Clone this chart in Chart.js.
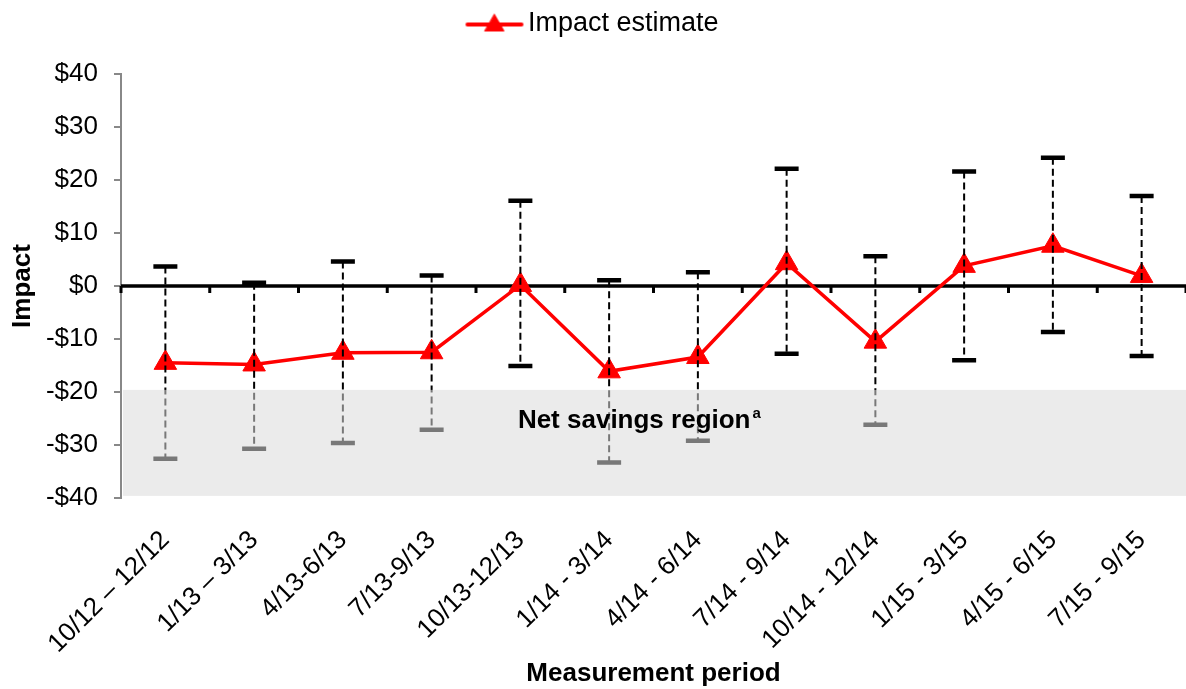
<!DOCTYPE html>
<html>
<head>
<meta charset="utf-8">
<title>Impact estimate by measurement period</title>
<script src="https://cdn.jsdelivr.net/npm/chart.js@4.4.0/dist/chart.umd.min.js"></script>
<style>
  html, body { margin: 0; padding: 0; background: #fff; }
  #wrap { width: 1186px; height: 689px; }
</style>
</head>
<body>
<div id="wrap"><canvas id="impactChart"></canvas></div>
<script>
// quarterly measurement periods
const periods = [
  "10/12 \u2013 12/12", "1/13 \u2013 3/13", "4/13-6/13", "7/13-9/13", "10/13-12/13",
  "1/14 - 3/14", "4/14 - 6/14", "7/14 - 9/14", "10/14 - 12/14",
  "1/15 - 3/15", "4/15 - 6/15", "7/15 - 9/15"
];
// point estimates and confidence interval bounds
const impact = [-14.5, -14.8, -12.6, -12.5, 0.2, -16.1, -13.4, 4.3, -10.5, 3.8, 7.6, 1.9];
const ciLow  = [-32.6, -30.7, -29.6, -27.1, -15.1, -33.3, -29.2, -12.8, -26.2, -14.0, -8.7, -13.2];
const ciHigh = [3.7, 0.6, 4.6, 2.0, 16.1, 1.1, 2.6, 22.1, 5.6, 21.6, 24.2, 17.0];
// y axis ticks
const yTicks = [-40, -30, -20, -10, 0, 10, 20, 30, 40];
// shaded band (net savings)
const savingsBand = [-39.6, -19.6];

const FONT = "'Liberation Sans', Arial, sans-serif";

function money(v) {
  return v < 0 ? "-$" + Math.abs(v) : "$" + v;
}

// legend swatch: red line with a triangle marker
const legendIcon = document.createElement("canvas");
legendIcon.width = 60;
legendIcon.height = 26;
(function () {
  const g = legendIcon.getContext("2d");
  g.strokeStyle = "#ff0000";
  g.lineWidth = 4;
  g.lineCap = "round";
  g.beginPath();
  g.moveTo(3, 14);
  g.lineTo(57, 14);
  g.stroke();
  g.fillStyle = "#ff0000";
  g.lineWidth = 1;
  Chart.helpers.drawPoint(g, { pointStyle: "triangle", radius: 11, rotation: 0, borderWidth: 1 }, 30, 15);
})();

// room between legend and plot
const legendGap = {
  id: "legendGap",
  beforeInit(chart) {
    const fit = chart.legend.fit;
    chart.legend.fit = function () {
      fit.bind(chart.legend)();
      this.height += 27;
    };
  }
};

// zero line with category tick marks
const zeroAxis = {
  id: "zeroAxis",
  beforeDatasetsDraw(chart) {
    const { ctx, chartArea, scales } = chart;
    const y0 = scales.y.getPixelForValue(0);
    ctx.save();
    ctx.strokeStyle = "#000";
    ctx.lineWidth = 3.5;
    ctx.beginPath();
    ctx.moveTo(chartArea.left, y0);
    ctx.lineTo(chartArea.right, y0);
    ctx.stroke();
    ctx.lineWidth = 3;
    for (let i = 0; i <= periods.length; i++) {
      const x = scales.x.getPixelForValue(i - 0.5);
      ctx.beginPath();
      ctx.moveTo(x, y0);
      ctx.lineTo(x, y0 + 7);
      ctx.stroke();
    }
    ctx.restore();
  }
};

// confidence intervals, then the shaded band and its label
const intervals = {
  id: "intervals",
  afterDatasetsDraw(chart) {
    const { ctx, chartArea, scales } = chart;
    const xs = scales.x, ys = scales.y;
    ctx.save();
    ctx.strokeStyle = "#000";
    for (let i = 0; i < periods.length; i++) {
      const x = xs.getPixelForValue(i);
      const top = ys.getPixelForValue(ciHigh[i]);
      const bot = ys.getPixelForValue(ciLow[i]);
      ctx.lineWidth = 2;
      ctx.setLineDash([7, 4]);
      ctx.beginPath();
      ctx.moveTo(x, top);
      ctx.lineTo(x, bot);
      ctx.stroke();
      ctx.setLineDash([]);
      ctx.lineWidth = 4.5;
      ctx.beginPath();
      ctx.moveTo(x - 12, top);
      ctx.lineTo(x + 12, top);
      ctx.moveTo(x - 12, bot);
      ctx.lineTo(x + 12, bot);
      ctx.stroke();
    }

    const bTop = ys.getPixelForValue(savingsBand[1]);
    const bBot = ys.getPixelForValue(savingsBand[0]);
    ctx.fillStyle = "rgba(218,218,218,0.55)";
    ctx.fillRect(chartArea.left + 2, bTop, chartArea.right - chartArea.left - 2, bBot - bTop);

    const label = "Net savings region";
    ctx.fillStyle = "#000";
    ctx.font = "bold 26px " + FONT;
    ctx.textBaseline = "middle";
    const w = ctx.measureText(label).width;
    const cx = xs.getPixelForValue(5.35);
    const cy = ys.getPixelForValue(-25.4);
    ctx.textAlign = "left";
    ctx.fillText(label, cx - (w + 12) / 2, cy);
    ctx.font = "bold 15px " + FONT;
    ctx.fillText("a", cx - (w + 12) / 2 + w + 2, cy - 7);
    ctx.restore();
  }
};

const ctx = document.getElementById("impactChart");
const impactChart = new Chart(ctx, {
  type: "line",
  data: {
    labels: periods,
    datasets: [
      {
        label: "Impact estimate",
        data: impact,
        borderColor: "#ff0000",
        backgroundColor: "#ff0000",
        borderWidth: 3.5,
        tension: 0,
        pointStyle: "triangle",
        pointRadius: 13,
        pointHoverRadius: 13,
        pointBackgroundColor: "#ff0000",
        pointBorderColor: "#ff0000",
        pointBorderWidth: 1,
      },
    ],
  },
  options: {
    responsive: true,
    maintainAspectRatio: false,
    animation: false,
    layout: { autoPadding: false, padding: { left: 7, right: 0, top: 0, bottom: 0 } },
    plugins: {
      tooltip: { enabled: false },
      legend: {
        position: "top",
        labels: {
          font: { family: FONT, size: 27 },
          color: "#000",
          usePointStyle: true,
          pointStyle: legendIcon,
          pointStyleWidth: 40,
          padding: 10,
        },
      },
    },
    scales: {
      x: {
        offset: true,
        grid: { display: false, drawTicks: false },
        border: { display: false },
        ticks: {
          autoSkip: false,
          maxRotation: 45,
          minRotation: 45,
          padding: 27,
          color: "#000",
          font: { family: FONT, size: 26 },
        },
        title: {
          display: true,
          text: "Measurement period",
          color: "#000",
          font: { family: FONT, size: 26, weight: "bold" },
          padding: { top: 4, bottom: 0 },
        },
        afterFit: (scale) => {
          scale.paddingLeft = 0;
          scale.paddingRight = 0;
          scale.height = 191;
        },
      },
      y: {
        min: yTicks[0],
        max: yTicks[yTicks.length - 1],
        afterBuildTicks: (scale) => {
          scale.ticks = yTicks.map((v) => ({ value: v }));
        },
        afterFit: (scale) => {
          scale.width = 114;
        },
        grid: { drawOnChartArea: false, color: "#888", tickLength: 7, lineWidth: 2 },
        border: { color: "#888", width: 2 },
        ticks: {
          padding: 16,
          color: "#000",
          font: { family: FONT, size: 26 },
          callback: (v) => money(v),
        },
        title: {
          display: true,
          text: "Impact",
          color: "#000",
          font: { family: FONT, size: 26, weight: "bold" },
          padding: { top: 0, bottom: 9 },
        },
      },
    },
  },
  plugins: [legendGap, zeroAxis, intervals],
});
</script>
</body>
</html>
